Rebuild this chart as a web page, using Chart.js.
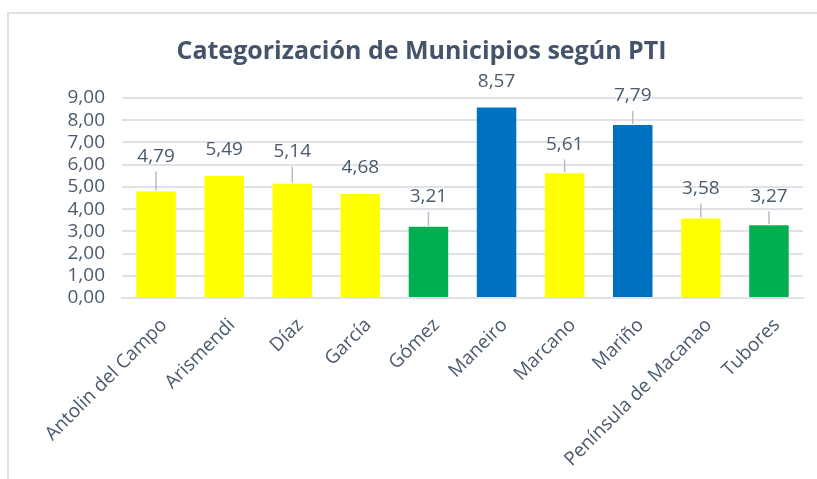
<!DOCTYPE html>
<html>
<head>
<meta charset="utf-8">
<script src="https://cdn.jsdelivr.net/npm/chart.js@4"></script>
<style>
  html, body { margin: 0; padding: 0; background: #fff; }
  #wrap { position: relative; width: 817px; height: 479px; overflow: hidden; }
  #frame { position: absolute; left: 7px; top: 12px; width: 900px; height: 600px;
           border-left: 2px solid #DDE2E8; border-top: 2px solid #DDE2E8; }
  canvas { position: absolute; left: 0; top: 0; }
</style>
</head>
<body>
<div id="wrap">
  <div id="frame"></div>
  <canvas id="chart" width="817" height="479"></canvas>
</div>
<script>
const municipios = ['Antolin del Campo', 'Arismendi', 'Díaz', 'García', 'Gómez',
                    'Maneiro', 'Marcano', 'Mariño', 'Península de Macanao', 'Tubores'];
const pti = [4.79, 5.49, 5.14, 4.68, 3.21, 8.57, 5.61, 7.79, 3.58, 3.27];
const categoria = ['medio', 'medio', 'medio', 'medio', 'bajo', 'alto', 'medio', 'alto', 'medio', 'bajo'];
const yTicks = [0, 1, 2, 3, 4, 5, 6, 7, 8, 9];

const colores = { alto: '#0070C0', medio: '#FFFF00', bajo: '#00B050' };
const fuente = "'Open Sans', 'Noto Sans', sans-serif";
const textoColor = '#4A5A6E';

// distancia de cada etiqueta sobre su barra (como quedaron en el Excel)
const desplazamientos = [35, 26, 32, 26, 30, 26, 29, 29, 30, 29];

const fmt = v => v.toFixed(2).replace('.', ',');

const etiquetasPlugin = {
    id: 'etiquetas',
    afterDatasetsDraw(chart) {
        const ctx = chart.ctx;
        const meta = chart.getDatasetMeta(0);
        ctx.save();
        ctx.font = `19px ${fuente}`;
        ctx.fillStyle = textoColor;
        ctx.textAlign = 'center';
        ctx.textBaseline = 'middle';
        meta.data.forEach((bar, i) => {
            const cy = bar.y - desplazamientos[i];
            ctx.fillText(fmt(pti[i]), bar.x, cy);
            // linea guia cuando la etiqueta queda lejos
            if (desplazamientos[i] >= 28) {
                ctx.strokeStyle = '#B4BFCC';
                ctx.lineWidth = 1.5;
                ctx.beginPath();
                ctx.moveTo(bar.x, cy + 15);
                ctx.lineTo(bar.x, bar.y - 1);
                ctx.stroke();
            }
        });
        ctx.restore();
    }
};

new Chart(document.getElementById('chart'), {
    type: 'bar',
    data: {
        labels: municipios,
        datasets: [{
            label: 'PTI',
            data: pti,
            backgroundColor: categoria.map(c => colores[c]),
            borderWidth: 0,
            barPercentage: 0.58,
            categoryPercentage: 1
        }]
    },
    options: {
        responsive: false,
        animation: false,
        // el padding izquierdo centra el titulo sobre el marco original
        layout: { padding: { left: 40, right: 14, top: 0, bottom: 0 } },
        plugins: {
            legend: { display: false },
            tooltip: { enabled: false },
            title: {
                display: true,
                text: 'Categorización de Municipios según PTI',
                color: '#44546A',
                font: { family: fuente, size: 25, weight: 'bold' },
                padding: { top: 37, bottom: 31 }
            }
        },
        scales: {
            y: {
                min: 0,
                max: 9,
                afterBuildTicks: s => { s.ticks = yTicks.map(v => ({ value: v })); },
                afterFit: s => { s.width = 82; },
                grid: { color: '#DFE3E8', lineWidth: 2, drawTicks: false },
                border: { display: false },
                ticks: {
                    color: textoColor,
                    autoSkip: false,
                    padding: 17,
                    font: { family: fuente, size: 19 },
                    callback: v => fmt(v)
                }
            },
            x: {
                afterFit: s => { s.height = 181; },
                grid: { display: false, drawTicks: false },
                border: { color: '#DFE3E8', width: 2 },
                ticks: {
                    color: textoColor,
                    autoSkip: false,
                    minRotation: 45,
                    maxRotation: 45,
                    padding: 16,
                    labelOffset: 8,
                    font: { family: fuente, size: 19 }
                }
            }
        }
    },
    plugins: [etiquetasPlugin]
});
</script>
</body>
</html>
